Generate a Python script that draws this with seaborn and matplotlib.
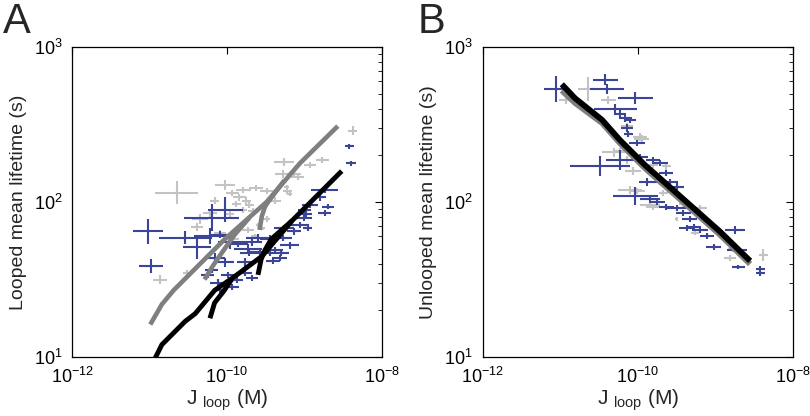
import numpy as np
import matplotlib
matplotlib.use("Agg")
import matplotlib.pyplot as plt
import matplotlib.ticker as mticker
import seaborn as sns

# all values are log10 of the data; d* are half-widths of the error bars in decades

# panel A, dark blue crosses
a_blue_lj = [-11.02, -10.98, -10.20, -10.02, -10.54, -10.39, -10.22, -9.96, -10.16, -10.03,
             -10.12, -9.94, -9.87, -9.99, -9.77, -9.68, -9.60, -9.73, -9.58, -9.45,
             -9.38, -9.28, -9.26, -9.32, -9.19, -9.13, -9.06, -9.00, -9.00, -8.93,
             -8.74, -8.80, -8.70, -8.74, -8.96, -8.42, -8.40, -10.09, -9.86, -9.71,
             -9.45, -9.41, -10.20, -10.25, -9.77, -9.68, -10.09, -9.30, -8.98]
a_blue_lt = [1.81, 1.59, 1.90, 1.95, 1.77, 1.71, 1.78, 1.74, 1.64, 1.61,
             1.48, 1.45, 1.50, 1.53, 1.61, 1.74, 1.77, 1.70, 1.68, 1.76,
             1.69, 1.77, 1.83, 1.64, 1.72, 1.81, 1.85, 1.90, 1.95, 1.98,
             2.08, 2.03, 1.97, 1.93, 1.83, 2.36, 2.25, 1.79, 1.73, 1.67,
             1.67, 1.62, 1.56, 1.53, 1.54, 1.51, 1.43, 1.67, 1.92]
a_blue_dj = [0.19, 0.15, 0.36, 0.23, 0.34, 0.18, 0.21, 0.15, 0.13, 0.12,
             0.10, 0.09, 0.08, 0.09, 0.10, 0.13, 0.15, 0.18, 0.13, 0.12,
             0.10, 0.12, 0.13, 0.10, 0.12, 0.09, 0.12, 0.10, 0.09, 0.10,
             0.17, 0.08, 0.08, 0.08, 0.06, 0.06, 0.06, 0.13, 0.13, 0.12,
             0.10, 0.09, 0.09, 0.08, 0.09, 0.08, 0.09, 0.10, 0.08]
a_blue_dt = [0.08, 0.045, 0.09, 0.08, 0.04, 0.08, 0.05, 0.04, 0.03, 0.026,
             0.026, 0.02, 0.02, 0.02, 0.026, 0.026, 0.026, 0.03, 0.026, 0.026,
             0.02, 0.02, 0.02, 0.02, 0.02, 0.02, 0.02, 0.02, 0.02, 0.02,
             0.02, 0.02, 0.015, 0.02, 0.02, 0.015, 0.015, 0.02, 0.02, 0.02,
             0.02, 0.02, 0.02, 0.02, 0.02, 0.02, 0.02, 0.02, 0.02]

# panel A, light grey crosses
a_grey_lj = [-10.65, -10.03, -10.87, -10.51, -10.35, -10.39, -10.22, -10.09, -9.73, -9.93,
             -9.26, -9.28, -9.09, -8.77, -8.93, -8.38, -9.62, -9.49, -9.23, -9.19,
             -9.79, -9.93, -9.84, -9.75, -9.88, -9.71, -9.80, -9.67, -9.38, -9.22,
             -9.49, -9.13, -9.96, -9.60, -9.54, -9.64, -10.03, -10.16]
a_grey_lt = [2.06, 2.11, 1.50, 1.54, 1.89, 1.84, 1.93, 1.80, 1.82, 1.76,
             2.26, 2.18, 2.16, 2.27, 2.24, 2.46, 2.09, 2.07, 2.10, 2.05,
             2.08, 2.06, 2.03, 2.01, 1.99, 1.98, 1.95, 1.94, 2.01, 2.07,
             1.89, 2.18, 1.92, 1.85, 1.83, 1.78, 1.95, 2.01]
a_grey_dj = [0.28, 0.13, 0.09, 0.06, 0.10, 0.08, 0.09, 0.08, 0.08, 0.08,
             0.13, 0.10, 0.08, 0.08, 0.08, 0.06, 0.09, 0.08, 0.03, 0.03,
             0.10, 0.08, 0.08, 0.06, 0.06, 0.06, 0.06, 0.06, 0.08, 0.06,
             0.05, 0.08, 0.05, 0.03, 0.03, 0.05, 0.06, 0.06]
a_grey_dt = [0.075, 0.03, 0.03, 0.02, 0.03, 0.025, 0.025, 0.02, 0.02, 0.02,
             0.025, 0.025, 0.02, 0.02, 0.02, 0.03, 0.02, 0.02, 0.012, 0.012,
             0.02, 0.02, 0.02, 0.02, 0.02, 0.02, 0.02, 0.02, 0.02, 0.02,
             0.02, 0.02, 0.02, 0.012, 0.012, 0.012, 0.02, 0.02]

# panel A model curves (grey and black, each drawn as three overlapping pieces)
a_grey_lines = [
    ([-10.99, -10.84, -10.69, -10.03, -9.49, -9.06, -8.57], [1.21, 1.34, 1.43, 1.76, 2.00, 2.25, 2.49]),
    ([-10.29, -10.18, -10.07, -9.90, -9.71], [1.50, 1.59, 1.67, 1.79, 1.90]),
    ([-9.58, -9.55, -9.51, -9.47, -9.26], [1.82, 1.91, 1.97, 2.00, 2.14]),
]
a_black_lines = [
    ([-10.93, -10.84, -10.54, -10.41, -10.16, -9.90, -9.55, -9.16, -8.52],
     [0.99, 1.08, 1.23, 1.28, 1.43, 1.52, 1.65, 1.88, 2.20]),
    ([-10.22, -10.16, -10.05, -9.94], [1.25, 1.35, 1.42, 1.50]),
    ([-9.60, -9.56, -9.51, -9.43, -9.16], [1.53, 1.63, 1.69, 1.76, 1.88]),
]

# panel B, dark blue crosses
b_blue_lj = [-11.05, -10.42, -10.40, -10.03, -10.29, -10.23, -10.16, -10.10, -10.14, -10.12,
             -10.01, -9.97, -10.23, -10.49, -10.03, -9.88, -9.80, -9.71, -9.63, -9.58,
             -9.50, -9.84, -9.75, -9.63, -9.50, -9.41, -9.33, -9.28, -9.20, -9.11,
             -9.02, -8.74, -8.72, -8.70, -8.42, -8.42, -9.71, -9.37]
b_blue_lt = [2.73, 2.79, 2.73, 2.67, 2.60, 2.57, 2.54, 2.53, 2.48, 2.44,
             2.38, 2.29, 2.27, 2.23, 2.04, 2.13, 2.27, 2.25, 2.19, 2.13,
             2.10, 2.02, 2.00, 1.97, 1.96, 1.93, 1.89, 1.84, 1.82, 1.78,
             1.71, 1.82, 1.69, 1.58, 1.57, 1.54, 2.13, 1.83]
b_blue_dj = [0.16, 0.16, 0.22, 0.23, 0.28, 0.08, 0.08, 0.08, 0.08, 0.06,
             0.10, 0.10, 0.18, 0.39, 0.29, 0.10, 0.09, 0.10, 0.09, 0.10,
             0.10, 0.13, 0.10, 0.10, 0.12, 0.10, 0.10, 0.10, 0.10, 0.09,
             0.10, 0.13, 0.13, 0.08, 0.06, 0.06, 0.08, 0.10]
b_blue_dt = [0.086, 0.035, 0.034, 0.04, 0.03, 0.026, 0.026, 0.02, 0.026, 0.02,
             0.02, 0.02, 0.065, 0.065, 0.058, 0.026, 0.02, 0.02, 0.02, 0.02,
             0.02, 0.026, 0.02, 0.02, 0.02, 0.02, 0.02, 0.02, 0.02, 0.02,
             0.02, 0.026, 0.02, 0.015, 0.015, 0.015, 0.02, 0.02]

# panel B, light grey crosses
b_grey_lj = [-10.64, -10.92, -10.38, -10.14, -9.97, -10.31, -10.14, -10.06, -10.10, -9.80,
             -9.63, -9.20, -9.50, -9.26, -8.81, -8.77, -8.38, -9.67, -9.41, -10.23,
             -9.95, -9.80, -10.01, -9.84]
b_grey_lt = [2.73, 2.66, 2.66, 2.49, 2.42, 2.32, 2.27, 2.20, 2.08, 1.97,
             2.23, 1.96, 1.89, 1.80, 1.64, 1.70, 1.66, 2.06, 1.99, 2.33,
             2.41, 2.24, 2.07, 1.98]
b_grey_dj = [0.13, 0.09, 0.10, 0.08, 0.09, 0.15, 0.10, 0.10, 0.15, 0.10,
             0.06, 0.09, 0.025, 0.05, 0.08, 0.06, 0.06, 0.06, 0.06, 0.08,
             0.10, 0.06, 0.10, 0.13]
b_grey_dt = [0.08, 0.026, 0.026, 0.02, 0.026, 0.03, 0.026, 0.026, 0.026, 0.02,
             0.02, 0.02, 0.013, 0.013, 0.02, 0.02, 0.04, 0.02, 0.02, 0.02,
             0.02, 0.02, 0.02, 0.02]

# panel B model curves
b_curve_lj = [-10.98, -10.81, -10.46, -10.23, -9.91, -8.94, -8.55]
b_curve_black_lt = [2.76, 2.67, 2.53, 2.40, 2.24, 1.81, 1.62]
b_curve_grey_lt = [2.72, 2.64, 2.51, 2.38, 2.22, 1.79, 1.60]

BLUE = "#3b4598"
LIGHT = "#c3c3c3"
MID = "#7f7f7f"

sns.set_style("white")
plt.rcParams["font.family"] = ["Liberation Sans", "DejaVu Sans"]
plt.rcParams["mathtext.fontset"] = "custom"
plt.rcParams["mathtext.rm"] = "Liberation Sans"


def crosses(ax, lj, lt, dj, dt, color):
    lj, lt, dj, dt = map(np.asarray, (lj, lt, dj, dt))
    x, y = 10 ** lj, 10 ** lt
    xerr = [x - 10 ** (lj - dj), 10 ** (lj + dj) - x]
    yerr = [y - 10 ** (lt - dt), 10 ** (lt + dt) - y]
    ax.errorbar(x, y, xerr=xerr, yerr=yerr, fmt="none", ecolor=color,
                elinewidth=1.5, capsize=0)


def curve(ax, lj, lt, color, lw):
    sns.lineplot(x=10 ** np.asarray(lj), y=10 ** np.asarray(lt), sort=False,
                 estimator=None, color=color, lw=lw, ax=ax,
                 solid_capstyle="butt", solid_joinstyle="round")


def style(ax, ylabel):
    ax.set_xscale("log")
    ax.set_yscale("log")
    ax.set_xlim(1e-12, 1e-8)
    ax.set_ylim(1e1, 1e3)
    ax.xaxis.set_major_locator(mticker.FixedLocator([1e-12, 1e-10, 1e-8]))
    ax.xaxis.set_minor_locator(mticker.NullLocator())
    ax.yaxis.set_major_locator(mticker.FixedLocator([1e1, 1e2, 1e3]))
    ax.yaxis.set_minor_locator(mticker.LogLocator(base=10, subs=np.arange(2, 10)))
    ax.yaxis.set_minor_formatter(mticker.NullFormatter())
    ax.tick_params(which="both", direction="in", top=True, right=True,
                   labelsize=13, colors="black")
    ax.tick_params(which="major", length=5, width=0.8, pad=7)
    ax.tick_params(which="minor", length=3, width=0.6)
    for s in ax.spines.values():
        s.set_color("black")
        s.set_linewidth(0.9)
    ax.set_xlabel(r"J $_{\mathregular{loop}}$ (M)", fontsize=15, labelpad=0)
    ax.set_ylabel(ylabel, fontsize=14, labelpad=5)


fig = plt.figure(figsize=(8.1, 4.16), dpi=100)
ax_a = fig.add_axes([0.0889, 0.1418, 0.3827, 0.745])
ax_b = fig.add_axes([0.596, 0.1418, 0.3827, 0.745])

for ax in (ax_a, ax_b):
    ax.set_xscale("log")
    ax.set_yscale("log")

# panel A
crosses(ax_a, a_grey_lj, a_grey_lt, a_grey_dj, a_grey_dt, LIGHT)
crosses(ax_a, a_blue_lj, a_blue_lt, a_blue_dj, a_blue_dt, BLUE)
for lj, lt in a_grey_lines:
    curve(ax_a, lj, lt, MID, 3.3)
for lj, lt in a_black_lines:
    curve(ax_a, lj, lt, "black", 3.5)
style(ax_a, "Looped mean lifetime (s)")

# panel B
crosses(ax_b, b_grey_lj, b_grey_lt, b_grey_dj, b_grey_dt, LIGHT)
crosses(ax_b, b_blue_lj, b_blue_lt, b_blue_dj, b_blue_dt, BLUE)
curve(ax_b, b_curve_lj, b_curve_grey_lt, MID, 4.2)
curve(ax_b, b_curve_lj, b_curve_black_lt, "black", 4.2)
style(ax_b, "Unlooped mean lifetime (s)")

fig.text(0.003, 0.995, "A", fontsize=30, va="top", ha="left")
fig.text(0.516, 0.995, "B", fontsize=30, va="top", ha="left")

fig.savefig("out.png", dpi=100)
